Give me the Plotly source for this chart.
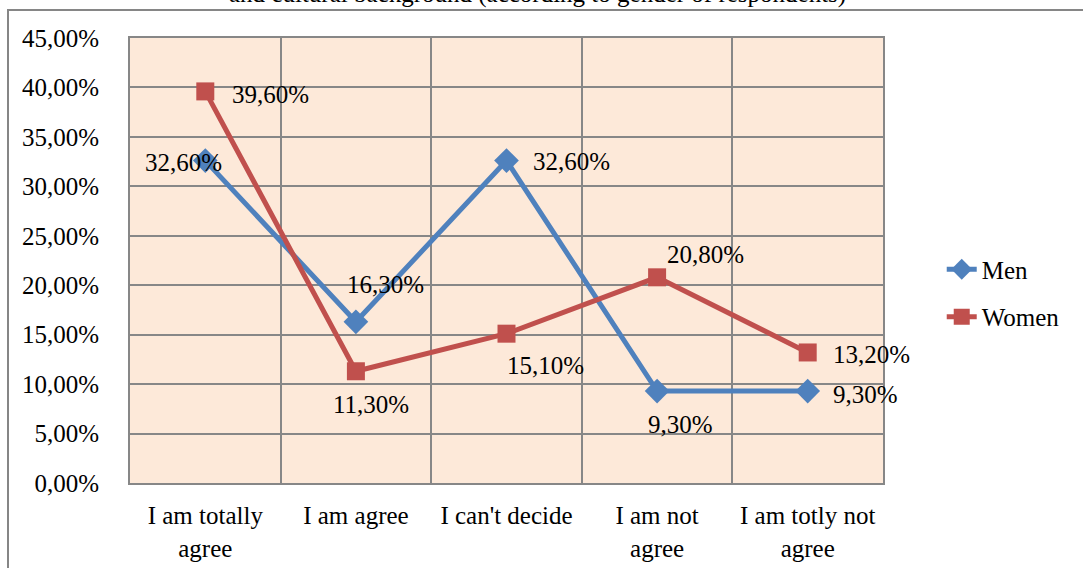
import plotly.graph_objects as go

# ---------------------------------------------------------------------------
# Data
# ---------------------------------------------------------------------------
categories = [
    "I am totally<br>agree",
    "I am agree",
    "I can't decide",
    "I am not<br>agree",
    "I am totly not<br>agree",
]
men = [32.6, 16.3, 32.6, 9.3, 9.3]
women = [39.6, 11.3, 15.1, 20.8, 13.2]
y_ticks = [0, 5, 10, 15, 20, 25, 30, 35, 40, 45]

# label offsets (pixels) for the data labels, per point
men_label_shift = [(-22, -2), (30, 37), (65, -1), (23, -33), (58, -3)]
women_label_shift = [(65, -3), (15, -33), (39, -32), (48, 23), (64, -2)]

BLUE = "#4F81BD"
RED = "#C0504D"
GRID = "#878787"
BG = "#FDE9D9"
FONT = "Liberation Serif, Times New Roman, serif"
FS = 25


def fmt(v):
    return f"{v:.2f}".replace(".", ",") + "%"


fig = go.Figure()

fig.add_trace(go.Scatter(
    x=categories, y=men, name="Men", legendgroup="men",
    mode="lines+markers",
    line=dict(color=BLUE, width=5),
    marker=dict(symbol="diamond", size=19, color=BLUE),
))
fig.add_trace(go.Scatter(
    x=categories, y=women, name="Women", legendgroup="women",
    mode="lines+markers",
    line=dict(color=RED, width=5),
    marker=dict(symbol="square", size=18, color=RED),
))

annotations = []
for series, shifts in ((men, men_label_shift), (women, women_label_shift)):
    for cat, v, (dx, dy) in zip(categories, series, shifts):
        annotations.append(dict(
            x=cat, y=v, xref="x", yref="y",
            text=fmt(v), showarrow=False,
            xshift=dx, yshift=dy,
            font=dict(family=FONT, size=FS, color="black"),
        ))

# title, cut off at the top of the page
annotations.append(dict(
    x=(537 - 130) / 753, y=1.0, xref="paper", yref="paper", yshift=28,
    yanchor="bottom", xanchor="center",
    text="and cultural background (according to gender of respondents)",
    showarrow=False,
    font=dict(family=FONT, size=FS, color="black"),
))

fig.update_layout(
    width=1083, height=568,
    margin=dict(l=130, r=200, t=38, b=85),
    paper_bgcolor="white",
    plot_bgcolor=BG,
    font=dict(family=FONT, size=FS, color="black"),
    showlegend=True,
    legend=dict(
        x=1.078, y=0.427, xanchor="left", yanchor="middle",
        font=dict(family=FONT, size=FS, color="black"),
        tracegroupgap=12,
        itemwidth=30,
    ),
    xaxis=dict(
        type="category",
        tickson="boundaries",
        showgrid=True, gridcolor=GRID, gridwidth=2,
        showline=True, linecolor=GRID, linewidth=2, mirror=True,
        ticks="", ticklabelstandoff=9,
        range=[-0.5, 4.5],
        automargin=False,
    ),
    yaxis=dict(
        range=[0, 45],
        tickvals=y_ticks,
        ticktext=[fmt(v) for v in y_ticks],
        showgrid=True, gridcolor=GRID, gridwidth=2,
        showline=True, linecolor=GRID, linewidth=2, mirror=True,
        zeroline=False,
        ticks="", ticklabelstandoff=24,
        automargin=False,
    ),
    annotations=annotations,
    shapes=[dict(
        type="rect", xref="paper", yref="paper",
        x0=(8 - 130) / 753, x1=1.6,
        y0=-0.5, y1=(483 - 10) / 445,
        line=dict(color="#868686", width=2),
        fillcolor="rgba(0,0,0,0)",
        layer="below",
    )],
)

# drop the default page margin so the figure sits at the window's corner
fig.write_html(
    "out.html",
    config={"displayModeBar": False},
    post_script="document.body.style.margin='0';",
)
